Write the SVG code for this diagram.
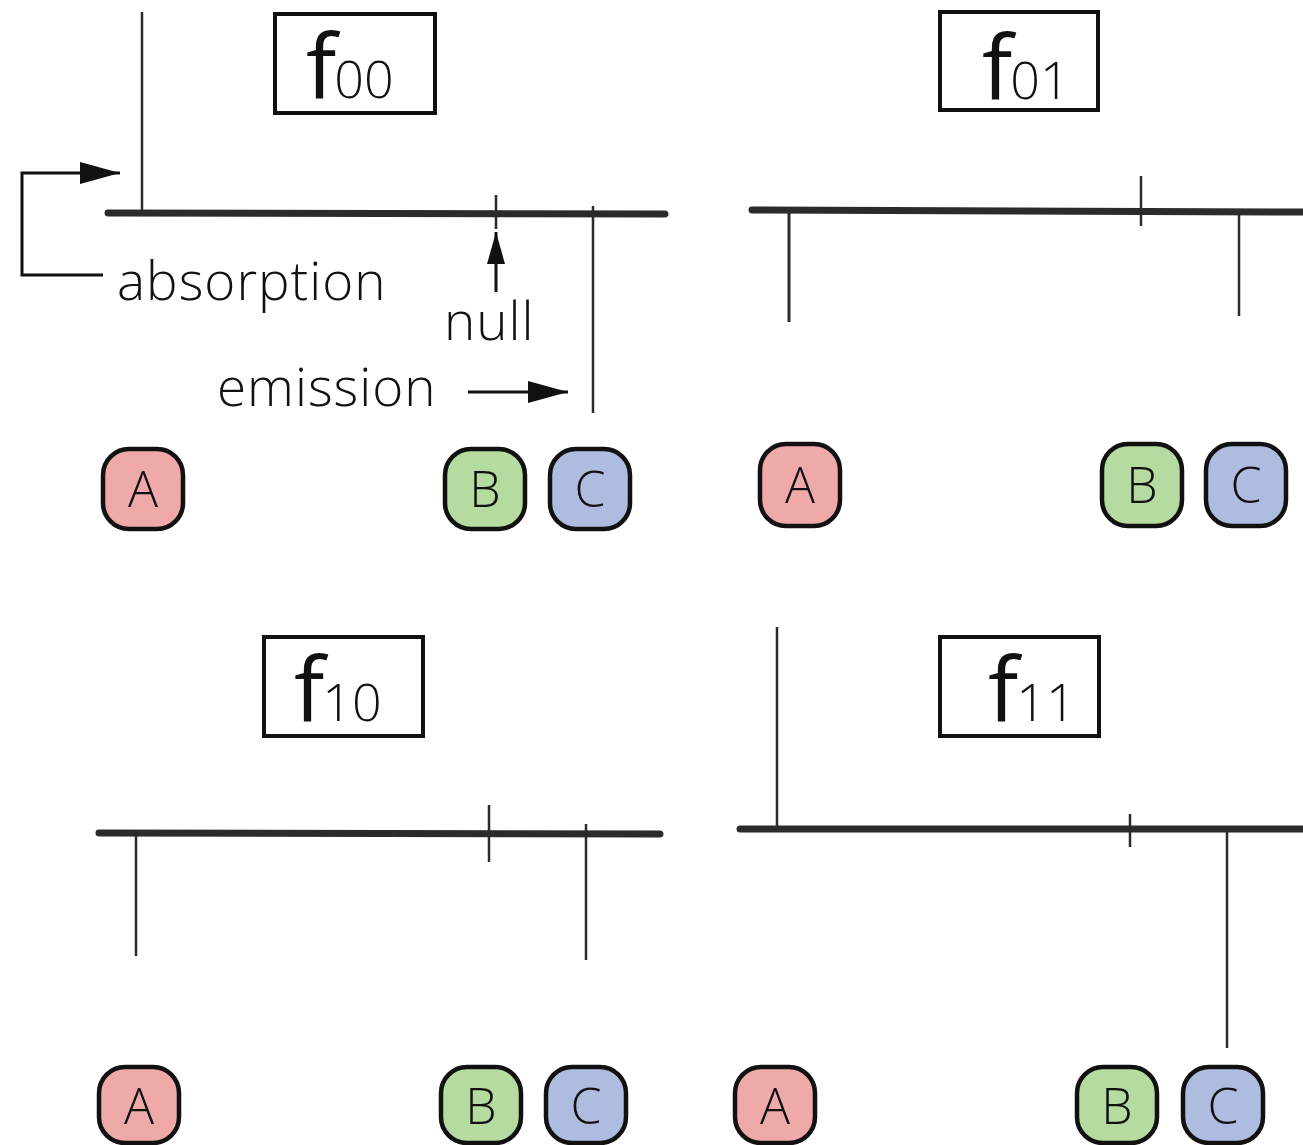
<svg xmlns="http://www.w3.org/2000/svg" width="1303" height="1145" viewBox="0 0 1303 1145">
<style>
  .txt{font-family:"Open Sans","Noto Sans",sans-serif;font-weight:300;fill:#111}
  .tf{font-weight:400}
  .sub{font-weight:300}
  .title{fill:#fff;stroke:#111;stroke-width:4}
  .base{stroke:#2b2b2b;stroke-width:7;stroke-linecap:round;fill:none}
  .peak{stroke:#2b2b2b;stroke-width:2.5;fill:none}
  .tick{stroke:#2b2b2b;stroke-width:2.5;fill:none}
  .conn{stroke:#111;stroke-width:3;fill:none}
  .node rect{stroke:#111;stroke-width:4.5}
  .na rect{fill:#EFA9A9}
  .nb rect{fill:#B5DBA0}
  .nc rect{fill:#AEBCE0}
  .nl{font-family:"Open Sans","Noto Sans",sans-serif;font-weight:300;font-size:50px;fill:#111;text-anchor:middle}
</style>
<defs>
  <marker id="ah" markerUnits="userSpaceOnUse" markerWidth="42" markerHeight="24" refX="40" refY="12" orient="auto">
    <path d="M0,1 L40,12 L0,23 z" fill="#111"/>
  </marker>
  <marker id="ahs" markerUnits="userSpaceOnUse" markerWidth="34" markerHeight="22" refX="32" refY="11" orient="auto">
    <path d="M0,2 L32,11 L0,20 z" fill="#111"/>
  </marker>
</defs>

<!-- Titles -->
<g id="title-f00">
  <rect class="title" x="275" y="14" width="160" height="99"/>
  <text class="txt tf" x="306" y="98" font-size="90">f<tspan class="sub" font-size="52" dx="-2">00</tspan></text>
</g>
<g id="title-f01">
  <rect class="title" x="940" y="12" width="158" height="98"/>
  <text class="txt tf" x="982" y="99" font-size="90">f<tspan class="sub" font-size="52" dx="-2">01</tspan></text>
</g>
<g id="title-f10">
  <rect class="title" x="264" y="637" width="159" height="99"/>
  <text class="txt tf" x="294" y="721" font-size="90">f<tspan class="sub" font-size="52" dx="-2">10</tspan></text>
</g>
<g id="title-f11">
  <rect class="title" x="940" y="637" width="159" height="99"/>
  <text class="txt tf" x="988" y="721" font-size="90">f<tspan class="sub" font-size="52" dx="-2">11</tspan></text>
</g>

<!-- Spectra -->
<g id="connectors">
  <!-- f00 -->
  <line class="base" x1="108" y1="213" x2="665" y2="214"/>
  <line class="peak" x1="142" y1="12" x2="142" y2="213"/>
  <line class="tick" x1="496" y1="195" x2="496" y2="229"/>
  <line class="peak" x1="593" y1="206" x2="593" y2="413"/>
  <!-- f01 -->
  <line class="base" x1="752" y1="210" x2="1303" y2="212"/>
  <line class="peak" x1="789" y1="211" x2="789" y2="322" style="stroke-width:3"/>
  <line class="tick" x1="1141" y1="176" x2="1141" y2="226"/>
  <line class="peak" x1="1239" y1="211" x2="1239" y2="316"/>
  <!-- f10 -->
  <line class="base" x1="99" y1="833" x2="660" y2="834"/>
  <line class="peak" x1="136" y1="833" x2="136" y2="956"/>
  <line class="tick" x1="489" y1="805" x2="489" y2="862"/>
  <line class="peak" x1="586" y1="824" x2="586" y2="960"/>
  <!-- f11 -->
  <line class="base" x1="740" y1="829" x2="1303" y2="829"/>
  <line class="peak" x1="777" y1="627" x2="777" y2="829"/>
  <line class="tick" x1="1130" y1="814" x2="1130" y2="847"/>
  <line class="peak" x1="1227" y1="829" x2="1227" y2="1048"/>

  <!-- annotation arrows -->
  <polyline class="conn" points="103,275 22,275 22,173 120,173" marker-end="url(#ah)"/>
  <line class="conn" x1="496" y1="292" x2="496" y2="232" marker-end="url(#ahs)"/>
  <line class="conn" x1="468" y1="392" x2="568" y2="392" marker-end="url(#ah)"/>
</g>

<!-- Labels -->
<g id="labels">
  <text class="txt" x="117" y="300" font-size="53" letter-spacing="1">absorption</text>
  <text class="txt" x="444" y="340" font-size="53" letter-spacing="1">null</text>
  <text class="txt" x="217" y="406" font-size="53" letter-spacing="1">emission</text>
</g>

<!-- Nodes -->
<g id="f00-A" class="node na"><rect x="103" y="449" width="80" height="80" rx="26"/><text class="nl" x="143" y="507">A</text></g>
<g id="f00-B" class="node nb"><rect x="445" y="449" width="80" height="80" rx="26"/><text class="nl" x="485" y="507">B</text></g>
<g id="f00-C" class="node nc"><rect x="550" y="449" width="80" height="80" rx="26"/><text class="nl" x="590" y="507">C</text></g>

<g id="f01-A" class="node na"><rect x="760" y="444" width="80" height="82" rx="26"/><text class="nl" x="800" y="503">A</text></g>
<g id="f01-B" class="node nb"><rect x="1102" y="444" width="80" height="82" rx="26"/><text class="nl" x="1142" y="503">B</text></g>
<g id="f01-C" class="node nc"><rect x="1206" y="444" width="80" height="82" rx="26"/><text class="nl" x="1246" y="503">C</text></g>

<g id="f10-A" class="node na"><rect x="99" y="1067" width="80" height="76" rx="26"/><text class="nl" x="139" y="1124">A</text></g>
<g id="f10-B" class="node nb"><rect x="441" y="1067" width="80" height="76" rx="26"/><text class="nl" x="481" y="1124">B</text></g>
<g id="f10-C" class="node nc"><rect x="546" y="1067" width="80" height="76" rx="26"/><text class="nl" x="586" y="1124">C</text></g>

<g id="f11-A" class="node na"><rect x="735" y="1067" width="80" height="76" rx="26"/><text class="nl" x="775" y="1124">A</text></g>
<g id="f11-B" class="node nb"><rect x="1077" y="1067" width="80" height="76" rx="26"/><text class="nl" x="1117" y="1124">B</text></g>
<g id="f11-C" class="node nc"><rect x="1183" y="1067" width="80" height="76" rx="26"/><text class="nl" x="1223" y="1124">C</text></g>
</svg>
